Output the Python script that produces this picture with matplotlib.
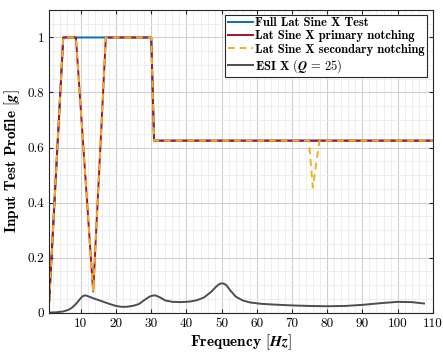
import matplotlib
matplotlib.use("Agg")
import matplotlib.pyplot as plt
import numpy as np
from matplotlib.ticker import MultipleLocator, FuncFormatter

plt.rcParams['font.family'] = 'serif'
plt.rcParams['font.serif'] = ['cmr10']
plt.rcParams['mathtext.fontset'] = 'cm'
plt.rcParams['axes.formatter.use_mathtext'] = True

# Full lateral sine test profile
full_f = [1, 5, 30, 30.8, 110]
full_a = [0.04, 1.0, 1.0, 0.625, 0.625]

# Primary notching
prim_f = [1, 5, 8.6, 13.5, 17.1, 30, 30.8, 110]
prim_a = [0.04, 1.0, 1.0, 0.076, 1.0, 1.0, 0.625, 0.625]

# Secondary notching
sec_f = [1, 5, 8.6, 13.5, 17.1, 30, 30.8, 74.8, 75.9, 77.8, 110]
sec_a = [0.04, 1.0, 1.0, 0.076, 1.0, 1.0, 0.625, 0.625, 0.455, 0.625, 0.625]

# ESI X (Q = 25)
esi_f = [1, 3, 5, 6.5, 7.5, 8.5, 9.5, 10.3, 10.9, 11.5, 12.5, 14, 16, 18, 20,
         21.5, 23, 25, 26.5, 28, 29.5, 30.5, 31.3, 32.5, 34, 36, 38.5, 41, 43,
         45, 47, 48.5, 49.5, 50.5, 51.3, 52.5, 54, 56, 58, 61, 65, 70, 75, 80,
         85, 90, 95, 100, 104, 107.5]
esi_a = [0.0, 0.001, 0.004, 0.010, 0.018, 0.030, 0.045, 0.057, 0.062, 0.062,
         0.057, 0.050, 0.041, 0.032, 0.024, 0.021, 0.021, 0.025, 0.031, 0.045,
         0.058, 0.062, 0.062, 0.055, 0.044, 0.039, 0.038, 0.040, 0.045, 0.055,
         0.075, 0.095, 0.105, 0.106, 0.100, 0.080, 0.058, 0.044, 0.037, 0.032,
         0.029, 0.026, 0.024, 0.023, 0.024, 0.028, 0.034, 0.039, 0.038, 0.033]

fig = plt.figure(figsize=(4.43, 3.56), dpi=100)
ax = fig.add_axes([0.111, 0.122, 0.866, 0.850])

ax.plot(full_f, full_a, color='#0072BD', lw=1.4, label='Full Lat Sine X Test')
ax.plot(prim_f, prim_a, color='#A2142F', lw=1.4, label='Lat Sine X primary notching')
ax.plot(sec_f, sec_a, color='#EDB120', lw=1.4, ls=(0, (3.5, 2.5)),
        label='Lat Sine X secondary notching')
ax.plot(esi_f, esi_a, color='#4D4D4D', lw=1.4,
        label=r'ESI X $\mathbf{(}\mathbfit{Q}\,\mathbf{=}\,\mathbf{25)}$')

ax.set_xlim(1, 110)
ax.set_ylim(0, 1.1)
ax.xaxis.set_major_locator(MultipleLocator(10))
ax.xaxis.set_minor_locator(MultipleLocator(2))
ax.yaxis.set_major_locator(MultipleLocator(0.2))
ax.yaxis.set_minor_locator(MultipleLocator(0.05))
ax.yaxis.set_major_formatter(FuncFormatter(lambda v, p: '%g' % round(v, 3)))
ax.xaxis.set_major_formatter(FuncFormatter(lambda v, p: '%g' % v))

ax.grid(which='major', color='#d0d0d0', lw=0.8)
ax.grid(which='minor', color='#ebebeb', lw=0.6)
ax.set_axisbelow(True)
ax.tick_params(which='major', direction='in', length=3, top=True, right=True,
               labelsize=9.5, color='#262626')
ax.tick_params(which='minor', length=0)
for s in ax.spines.values():
    s.set_color('#262626')
    s.set_linewidth(0.8)

ax.set_xlabel(r'Frequency $\mathbf{[}\mathbfit{Hz}\mathbf{]}$', fontfamily='cmb10', fontsize=11, labelpad=2)
ax.set_ylabel(r'Input Test Profile $\mathbf{[}\mathbfit{g}\mathbf{]}$', fontfamily='cmb10', fontsize=11, labelpad=4)

leg = ax.legend(loc='upper right', bbox_to_anchor=(0.985, 0.985), prop={'family': 'cmb10', 'size': 9},
                handlelength=2.0, handletextpad=0.2, borderpad=0.2, labelspacing=0.1,
                borderaxespad=0, fancybox=False, framealpha=1, edgecolor='#262626')
leg.get_frame().set_linewidth(0.8)

plt.savefig('out.png', dpi=100)
